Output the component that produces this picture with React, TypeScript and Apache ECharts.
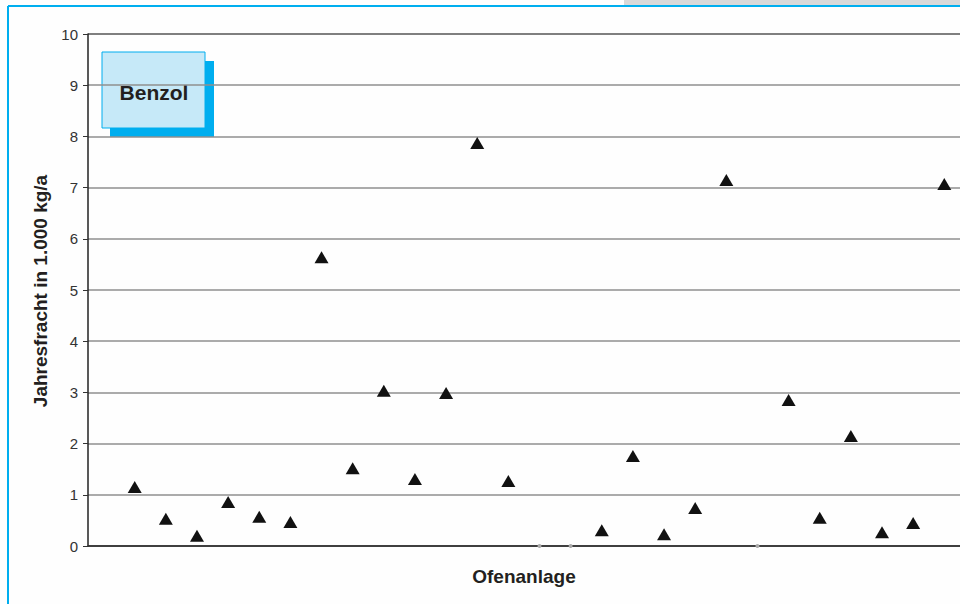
import React, { useEffect, useRef } from "react";
import * as echarts from "echarts";

const plants: string[] = [
  "", "1", "2", "3", "4", "5", "6", "7", "8", "9", "10", "11", "12", "13", "14",
  "15", "16", "17", "18", "19", "20", "21", "22", "23", "24", "25", "26", "27", "",
];
// Jahresfracht Benzol in 1.000 kg/a (0 = kein Wert / gray dot)
const benzol: (number | null)[] = [
  null, 1.15, 0.53, 0.2, 0.86, 0.57, 0.47, 5.64, 1.52, 3.03, 1.31, 2.99, 7.87, 1.27, 0,
  0, 0.31, 1.76, 0.23, 0.74, 7.15, 0, 2.85, 0.55, 2.15, 0.27, 0.45, 7.07, null,
];
const yTicks: number[] = [0, 1, 2, 3, 4, 5, 6, 7, 8, 9, 10];

export default function App() {
  const ref = useRef<HTMLDivElement>(null);
  useEffect(() => {
    document.body.style.margin = "0";
    const chart = echarts.init(ref.current!, null, { renderer: "svg" });
    const gridColors = yTicks.map((t) => (t === 0 ? "#333" : t === 10 ? "#555" : "#8f8f8f"));
    const triData = benzol.map((v) => (v !== null && v > 0 ? v : null));
    const dotData = benzol.map((v) => (v === 0 ? 0 : null));
    chart.setOption({
      animation: false,
      backgroundColor: "#fefefe",
      grid: { left: 88, top: 34, right: 0, bottom: 58 },
      xAxis: {
        type: "category",
        data: plants,
        boundaryGap: true,
        axisLine: { show: true, lineStyle: { color: "#333", width: 1.5 } },
        axisTick: { show: false },
        axisLabel: { show: false },
      },
      yAxis: {
        type: "value",
        min: 0,
        max: 10,
        interval: 1,
        axisLine: { show: true, lineStyle: { color: "#222", width: 1.5 } },
        axisTick: { show: true, length: 5, lineStyle: { color: "#333" } },
        axisLabel: { color: "#333", fontSize: 15, fontFamily: "Liberation Sans", margin: 10 },
        splitLine: { show: true, lineStyle: { color: gridColors, width: 1.5 } },
      },
      series: [
        {
          type: "scatter",
          data: triData,
          symbol: "triangle",
          symbolSize: [14, 12],
          itemStyle: { color: "#111", opacity: 1 },
        },
        {
          type: "scatter",
          data: dotData,
          symbol: "circle",
          symbolSize: 4,
          itemStyle: { color: "#aaa", opacity: 1 },
        },
      ],
      graphic: [
        { type: "rect", shape: { x: 624, y: 0, width: 376, height: 5 }, style: { fill: "#d9d9d9" } },
        { type: "line", shape: { x1: 8, y1: 6, x2: 1000, y2: 6 }, style: { stroke: "#00aeef", lineWidth: 2 } },
        { type: "line", shape: { x1: 8, y1: 6, x2: 8, y2: 604 }, style: { stroke: "#00aeef", lineWidth: 2 } },
        { type: "rect", shape: { x: 110, y: 61, width: 104, height: 76 }, style: { fill: "#00aeef" } },
        {
          type: "rect",
          shape: { x: 102, y: 52, width: 103, height: 76 },
          style: { fill: "#c6e9f8", stroke: "#00aeef", lineWidth: 1 },
        },
        {
          type: "text",
          x: 154,
          y: 92,
          style: {
            text: "Benzol",
            fill: "#231f20",
            font: "bold 21px 'Liberation Sans'",
            align: "center",
            verticalAlign: "middle",
          },
        },
        {
          type: "text",
          x: 40,
          y: 291,
          rotation: Math.PI / 2,
          style: {
            text: "Jahresfracht in 1.000 kg/a",
            fill: "#231f20",
            font: "bold 19px 'Liberation Sans'",
            align: "center",
            verticalAlign: "middle",
          },
        },
        {
          type: "text",
          x: 524,
          y: 576,
          style: {
            text: "Ofenanlage",
            fill: "#231f20",
            font: "bold 19px 'Liberation Sans'",
            align: "center",
            verticalAlign: "middle",
          },
        },
      ],
    });
    return () => chart.dispose();
  }, []);
  return (
    <div style={{ width: 960, height: 604, overflow: "hidden", position: "relative" }}>
      <div ref={ref} style={{ width: 991, height: 604 }} />
    </div>
  );
}
